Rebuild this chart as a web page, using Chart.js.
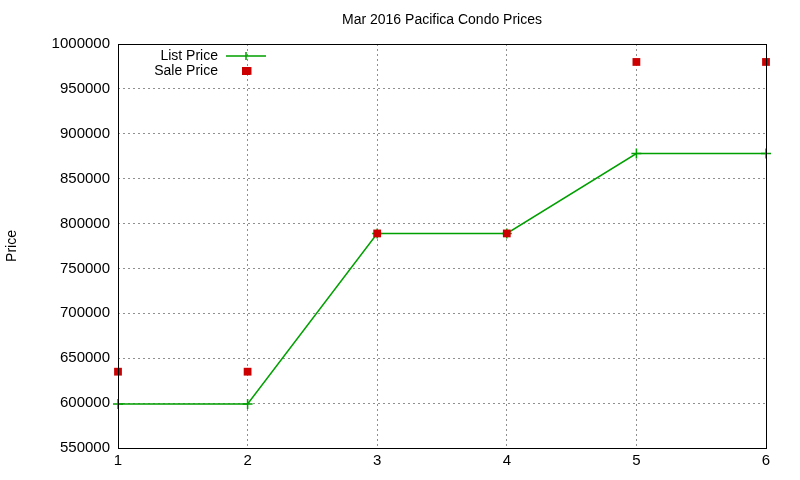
<!DOCTYPE html>
<html><head><meta charset="utf-8">
<script src="https://cdn.jsdelivr.net/npm/chart.js@4/dist/chart.umd.min.js"></script>
<style>html,body{margin:0;padding:0;background:#fff}#w{width:800px;height:480px}</style>
</head><body><div id="w"><canvas id="c"></canvas></div>
<script>
const categories = [1, 2, 3, 4, 5, 6];
const listPrice = [599000, 599000, 789000, 789000, 878000, 878000];
const salePrice = [635000, 635000, 789000, 789000, 980000, 980000];
const salePrice2 = [null, 970000, null, null, null, null];
const titleText = 'Mar 2016 Pacifica Condo Prices';
const yLabel = 'Price';
const FONT = '"Liberation Sans", Arial, sans-serif';
const GREEN = '#00a000', RED = '#cc0000';

const pts = a => a.map((v,i)=>({x:categories[i], y:v})).filter(p=>p.y!==null);
const deco = {
  id:'deco',
  afterDraw(ch){
    const c=ch.ctx, a=ch.chartArea;
    c.save();
    c.strokeStyle='#000'; c.lineWidth=1; c.setLineDash([]);
    c.strokeRect(a.left+0.5,a.top+0.5,a.right-a.left,a.bottom-a.top);
    c.fillStyle='#000'; c.font='14px '+FONT; c.textAlign='center'; c.textBaseline='middle';
    c.fillText(titleText,(a.left+a.right)/2,20);
    c.save(); c.translate(12,(a.top+a.bottom)/2); c.rotate(-Math.PI/2); c.fillText(yLabel,0,0); c.restore();
    c.textAlign='right';
    c.fillText('List Price',218,56); c.fillText('Sale Price',218,71);
    c.strokeStyle=GREEN; c.lineWidth=1.5;
    c.beginPath(); c.moveTo(226,56); c.lineTo(266,56); c.moveTo(246,52); c.lineTo(246,60); c.stroke();
    c.fillStyle=RED; c.fillRect(242,67,8,8);
    c.restore();
  }
};
new Chart(document.getElementById('c'),{
  type:'scatter',
  data:{datasets:[
    {label:'List Price',data:pts(listPrice),showLine:true,borderColor:GREEN,backgroundColor:GREEN,borderWidth:1.5,pointStyle:'cross',pointRadius:5,pointBorderWidth:1.5,tension:0,clip:false,order:2},
    {label:'Sale Price',data:pts(salePrice).concat(pts(salePrice2)),showLine:false,borderColor:RED,backgroundColor:RED,pointStyle:'rect',pointRadius:5.5,pointBorderWidth:0,clip:false,order:1}
  ]},
  options:{
    responsive:true,maintainAspectRatio:false,animation:false,
    layout:{padding:{top:44,right:34,left:0,bottom:0}},
    plugins:{legend:{display:false},title:{display:false},tooltip:{enabled:false}},
    scales:{
      x:{type:'linear',min:1,max:6,
        afterFit(s){s.height=32;},
        ticks:{stepSize:1,color:'#000',font:{family:FONT,size:15},padding:4},
        grid:{color:'#909090',drawTicks:false},border:{display:false,dash:[2,3]}},
      y:{min:550000,max:1000000,
        afterFit(s){s.width=118;},
        ticks:{stepSize:50000,color:'#000',font:{family:FONT,size:15},padding:8,callback:v=>String(v)},
        grid:{color:'#909090',drawTicks:false},border:{display:false,dash:[2,3]}}
    }
  },
  plugins:[deco]
});
</script></body></html>
